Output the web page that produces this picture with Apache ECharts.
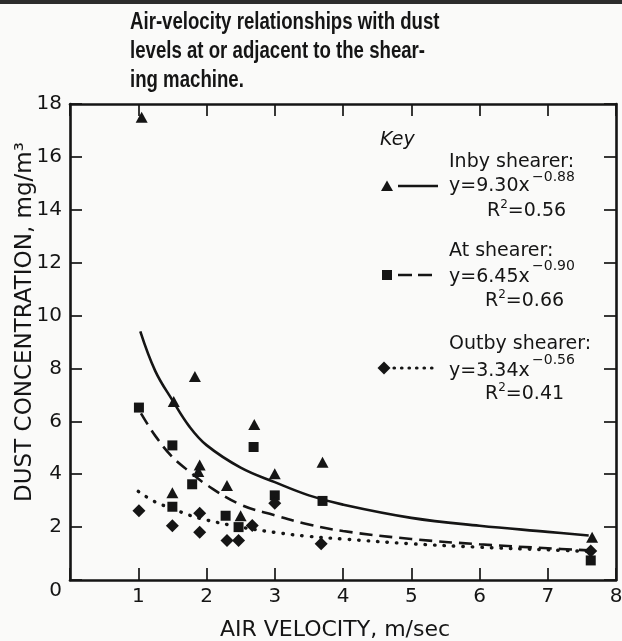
<!DOCTYPE html>
<html>
<head>
<meta charset="utf-8">
<script src="https://cdn.jsdelivr.net/npm/echarts@6/dist/echarts.min.js"></script>
<style>
html,body{margin:0;padding:0;background:#fafaf9;}
#chart{width:622px;height:641px;}
</style>
</head>
<body>
<div id="chart"></div>
<script>
// ---- data ----
const titleLines = ["Air-velocity relationships with dust", "levels at or adjacent to the shear-", "ing machine."];
const xAxisName = "AIR VELOCITY, m/sec";
const yAxisName = "DUST CONCENTRATION, mg/m\u00B3";
const xMin = 0, xMax = 8, xStep = 1;
const yMin = 0, yMax = 18, yStep = 2;

// Inby shearer (triangles)
const inbyX = [1.05, 1.52, 1.83, 2.70, 3.70, 3.00, 1.90, 1.88, 2.30, 1.50, 2.50, 7.65];
const inbyY = [17.5, 6.75, 7.70, 5.88, 4.45, 4.02, 4.35, 4.10, 3.57, 3.30, 2.43, 1.62];
// At shearer (squares)
const atX = [1.01, 1.50, 2.69, 3.70, 1.79, 3.00, 1.50, 2.28, 2.47, 7.63];
const atY = [6.52, 5.09, 5.03, 2.99, 3.62, 3.20, 2.77, 2.43, 2.00, 0.74];
// Outby shearer (diamonds)
const outX = [1.01, 1.50, 1.90, 1.90, 2.30, 2.47, 2.67, 3.00, 3.68, 7.63];
const outY = [2.62, 2.05, 2.52, 1.81, 1.49, 1.49, 2.06, 2.90, 1.37, 1.10];

// fitted curves, values
const inbyCurveX = [1.03, 1.25, 1.5, 1.75, 2.0, 2.5, 3.0, 3.5, 4.0, 5.0, 6.0, 7.0, 7.6];
const inbyCurveY = [9.40, 7.90, 6.80, 5.80, 5.10, 4.25, 3.70, 3.20, 2.85, 2.35, 2.05, 1.82, 1.68];
const atCurveX = [1.04, 1.25, 1.5, 1.75, 2.0, 2.5, 3.0, 3.5, 4.0, 5.0, 6.0, 7.0, 7.6];
const atCurveY = [6.30, 5.45, 4.65, 4.10, 3.60, 2.85, 2.45, 2.10, 1.85, 1.55, 1.35, 1.20, 1.12];
const outCurveX = [1.0, 1.25, 1.5, 1.75, 2.0, 2.5, 3.0, 3.5, 4.0, 5.0, 6.0, 7.0, 7.6];
const outCurveY = [3.35, 2.95, 2.70, 2.45, 2.27, 2.00, 1.80, 1.65, 1.55, 1.37, 1.24, 1.14, 1.08];

// key texts
const keyTitle = "Key";
const keyNames = ["Inby shearer:", "At shearer:", "Outby shearer:"];
const keyEq = ["y=9.30x", "y=6.45x", "y=3.34x"];
const keyExp = ["\u22120.88", "\u22120.90", "\u22120.56"];
const keyR2 = ["0.56", "0.66", "0.41"];

// ---- chart ----
const INK = '#151515';
const FONT = '"DejaVu Sans", sans-serif';
const zip = (a, b) => a.map((v, i) => [v, b[i]]);

const chart = echarts.init(document.getElementById('chart'), null, {renderer: 'canvas'});

// plot frame
const G = {left: 70, right: 6, top: 104, bottom: 61};
const TICK = 12;

const keyGraphics = [];
keyGraphics.push({type: 'text', left: 380, top: 131, style: {text: keyTitle, font: 'italic 19px ' + FONT, fill: INK}});
const rowTop = [153, 242, 335];
const sampleY = [186, 275, 368];
const eqTop = [177, 268, 362];
const expTop = [170, 259, 353];
const r2Top = [199, 289, 382];
const r2Left = [487, 485, 485];
const dashStyles = [null, [14, 6], [0.5, 7]];
for (let i = 0; i < 3; i++) {
  keyGraphics.push({type: 'text', left: 449, top: rowTop[i], style: {text: keyNames[i], font: '19px ' + FONT, fill: INK}});
  keyGraphics.push({type: 'text', left: 449, top: eqTop[i], style: {text: keyEq[i], font: '19px ' + FONT, fill: INK}});
  keyGraphics.push({type: 'text', left: 532, top: expTop[i], style: {text: keyExp[i], font: '14px ' + FONT, fill: INK}});
  keyGraphics.push({type: 'text', left: r2Left[i], top: r2Top[i], style: {
    text: '{n|R}{s|2}{n|=' + keyR2[i] + '}',
    rich: {n: {font: '19px ' + FONT, fill: INK, color: INK, lineHeight: 22, verticalAlign: 'bottom'},
           s: {font: '12px ' + FONT, fill: INK, color: INK, lineHeight: 22, verticalAlign: 'top'}}
  }});
  keyGraphics.push({type: 'line', shape: {x1: i === 2 ? 394 : 398, y1: sampleY[i], x2: 438, y2: sampleY[i]},
    style: {stroke: INK, lineWidth: i === 2 ? 3.2 : 2.6, lineDash: dashStyles[i], lineCap: i === 2 ? 'round' : 'butt'}});
}
keyGraphics.push({type: 'polygon', shape: {points: [[387, 180.5], [393, 191], [381, 191]]}, style: {fill: INK}});
keyGraphics.push({type: 'rect', shape: {x: 382, y: 270, width: 10, height: 10}, style: {fill: INK}});
keyGraphics.push({type: 'polygon', shape: {points: [[384, 361.5], [390.5, 368], [384, 374.5], [377.5, 368]]}, style: {fill: INK}});

// thin strip grids inside the frame whose split lines act as inward tick marks
const tickLine = {show: true, lineStyle: {color: INK, width: 1.7}};
const gridBase = {containLabel: false, outerBoundsMode: 'none'};
const grids = [
  Object.assign({left: G.left, right: G.right, top: G.top, bottom: G.bottom}, gridBase),   // 0 main
  Object.assign({left: G.left, right: G.right, bottom: G.bottom, height: TICK}, gridBase), // 1 bottom ticks
  Object.assign({left: G.left, right: G.right, top: G.top, height: TICK}, gridBase),       // 2 top ticks
  Object.assign({left: G.left, width: TICK, top: G.top, bottom: G.bottom}, gridBase),      // 3 left ticks
  Object.assign({right: G.right, width: TICK, top: G.top, bottom: G.bottom}, gridBase)     // 4 right ticks
];

const axisFont = {color: INK, fontFamily: FONT, fontSize: 20};

const xAxes = [
  {
    gridIndex: 0, type: 'value', min: xMin, max: xMax, interval: xStep, position: 'bottom',
    name: xAxisName, nameLocation: 'middle', nameGap: 39, nameMoveOverlap: false,
    nameTextStyle: {color: INK, fontFamily: FONT, fontSize: 22, padding: [0, 16, 0, 0]},
    axisLine: {show: true, onZero: false, lineStyle: {color: INK, width: 2.6}},
    axisTick: {show: false},
    axisLabel: Object.assign({margin: 7, formatter: v => v === 0 ? '' : String(v)}, axisFont),
    splitLine: {show: false}
  },
  {
    gridIndex: 0, type: 'value', min: xMin, max: xMax, interval: xStep, position: 'top',
    axisLine: {show: true, onZero: false, lineStyle: {color: INK, width: 2.6}},
    axisTick: {show: false}, axisLabel: {show: false}, splitLine: {show: false}
  },
  {gridIndex: 1, type: 'value', min: xMin, max: xMax, interval: xStep, axisLine: {show: false}, axisTick: {show: false}, axisLabel: {show: false}, splitLine: tickLine},
  {gridIndex: 2, type: 'value', min: xMin, max: xMax, interval: xStep, axisLine: {show: false}, axisTick: {show: false}, axisLabel: {show: false}, splitLine: tickLine},
  {gridIndex: 3, type: 'value', min: 0, max: 1, show: false},
  {gridIndex: 4, type: 'value', min: 0, max: 1, show: false}
];
const yAxes = [
  {
    gridIndex: 0, type: 'value', min: yMin, max: yMax, interval: yStep, position: 'left',
    name: yAxisName, nameLocation: 'middle', nameGap: 33, nameMoveOverlap: false,
    nameTextStyle: {color: INK, fontFamily: FONT, fontSize: 23, padding: [0, 0, 0, 40]},
    axisLine: {show: true, onZero: false, lineStyle: {color: INK, width: 2.6}},
    axisTick: {show: false},
    axisLabel: Object.assign({margin: 8, formatter: v => v === 0 ? '{z|0}' : String(v),
      rich: {z: {color: INK, fontFamily: FONT, fontSize: 20, padding: [22, 0, 0, 0]}}}, axisFont),
    splitLine: {show: false}
  },
  {
    gridIndex: 0, type: 'value', min: yMin, max: yMax, interval: yStep, position: 'right',
    axisLine: {show: true, onZero: false, lineStyle: {color: INK, width: 2.6}},
    axisTick: {show: false}, axisLabel: {show: false}, splitLine: {show: false}
  },
  {gridIndex: 1, type: 'value', min: 0, max: 1, show: false},
  {gridIndex: 2, type: 'value', min: 0, max: 1, show: false},
  {gridIndex: 3, type: 'value', min: yMin, max: yMax, interval: yStep, axisLine: {show: false}, axisTick: {show: false}, axisLabel: {show: false}, splitLine: tickLine},
  {gridIndex: 4, type: 'value', min: yMin, max: yMax, interval: yStep, axisLine: {show: false}, axisTick: {show: false}, axisLabel: {show: false}, splitLine: tickLine}
];

const option = {
  backgroundColor: '#fafaf9',
  animation: false,
  grid: grids,
  graphic: [
    {type: 'rect', left: 0, top: 0, shape: {width: 622, height: 4}, style: {fill: '#2c2c2c'}},
    {type: 'text', x: 130, y: 8, scaleX: 0.81, scaleY: 1, style: {
      text: titleLines.join('\n'),
      font: 'bold 23px "Liberation Sans", Arial, sans-serif',
      fill: INK, lineHeight: 29
    }}
  ].concat(keyGraphics),
  xAxis: xAxes,
  yAxis: yAxes,
  series: [
    {type: 'line', data: zip(inbyCurveX, inbyCurveY), smooth: 0.4, showSymbol: false, symbol: 'none',
      lineStyle: {color: INK, width: 2.6, type: 'solid'}, z: 2},
    {type: 'line', data: zip(atCurveX, atCurveY), smooth: 0.4, showSymbol: false, symbol: 'none',
      lineStyle: {color: INK, width: 2.6, type: [13, 7]}, z: 2},
    {type: 'line', data: zip(outCurveX, outCurveY), smooth: 0.4, showSymbol: false, symbol: 'none',
      lineStyle: {color: INK, width: 3.4, type: [0.5, 9], cap: 'round'}, z: 2},
    {type: 'scatter', data: zip(inbyX, inbyY), symbol: 'triangle', symbolSize: [12, 11],
      itemStyle: {color: INK, opacity: 1}, z: 3},
    {type: 'scatter', data: zip(atX, atY), symbol: 'rect', symbolSize: 10,
      itemStyle: {color: INK, opacity: 1}, z: 3},
    {type: 'scatter', data: zip(outX, outY), symbol: 'diamond', symbolSize: [13, 13],
      itemStyle: {color: INK, opacity: 1}, z: 3}
  ]
};
chart.setOption(option);
</script>
</body>
</html>
